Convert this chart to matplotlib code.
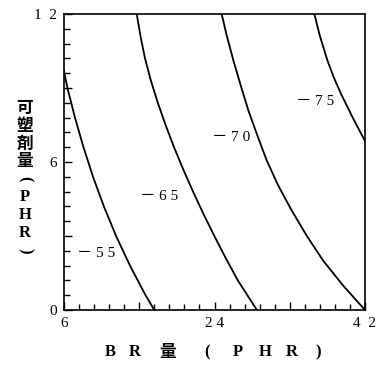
import matplotlib.pyplot as plt
import numpy as np

# contour lines (BR amount vs plasticizer amount)
levels = ['－ 5 5', '－ 6 5', '－ 7 0', '－ 7 5']
br_55 = [6.0, 6.41, 7.31, 8.33, 9.47, 10.77, 12.23, 13.89, 15.75, 16.8]
pl_55 = [9.68, 9.0, 7.8, 6.6, 5.4, 4.2, 3.0, 1.8, 0.6, 0.0]
br_65 = [14.7, 15.15, 15.69, 16.39, 17.22, 18.15, 19.16, 20.26, 21.43, 22.67, 23.98, 25.35, 26.79, 29.07]
pl_65 = [12.0, 11.1, 10.2, 9.3, 8.4, 7.5, 6.6, 5.7, 4.8, 3.9, 3.0, 2.1, 1.2, 0.0]
br_70 = [24.86, 25.45, 26.25, 27.13, 28.05, 29.12, 30.25, 31.63, 33.24, 35.03, 37.02, 39.41, 42.0]
pl_70 = [12.0, 11.14, 10.13, 9.11, 8.09, 7.08, 6.06, 5.04, 4.03, 3.01, 1.99, 0.98, 0.0]
br_75 = [35.94, 36.58, 37.49, 38.24, 39.12, 40.5, 41.97]
pl_75 = [12.0, 11.14, 10.13, 9.45, 8.77, 7.82, 6.87]
label_x = [9.8, 17.4, 26.0, 36.0]
label_y = [2.3, 4.6, 7.0, 8.45]

xticks = [6, 15, 24, 33, 42]
xtick_labels = ['6', '', '2 4', '', '4  2']
yticks = [0, 3, 6, 9, 12]
ytick_labels = ['0', '', '6', '', '1  2']

serif = ['Liberation Serif', 'Noto Sans CJK JP']
cjk = ['Noto Sans CJK JP', 'Liberation Serif']

fig = plt.figure(figsize=(3.81, 3.65), dpi=100)
ax = fig.add_axes([64 / 381, 55 / 365, 301 / 381, 296 / 365])

for xs, ys in [(br_55, pl_55), (br_65, pl_65), (br_70, pl_70), (br_75, pl_75)]:
    ax.plot(xs, ys, color='black', lw=1.3, solid_joinstyle='round')

for lab, x, y in zip(levels, label_x, label_y):
    ax.text(x, y, lab, ha='center', va='center', fontsize=11, family=serif)

ax.set_xlim(6, 42)
ax.set_ylim(0, 12)
ax.set_xticks(xticks, xtick_labels, family=serif, fontsize=11)
ax.set_yticks(yticks, ytick_labels, family=serif, fontsize=11)
ax.set_xticks(np.arange(6, 42.01, 1.8), minor=True)
ax.set_yticks(np.arange(0, 12.01, 0.6), minor=True)
ax.tick_params(which='major', direction='in', length=6, width=1.0, pad=5)
ax.tick_params(which='minor', direction='in', length=4, width=1.0)
for s in ax.spines.values():
    s.set_linewidth(1.2)

# y label, stacked vertically; brackets turned to vertical form
ychars = ['可', '塑', '剤', '量', '(', 'P', 'H', 'R', ')']
for i, ch in enumerate(ychars):
    rot = -90 if ch in '()' else 0
    fam = serif if ch in 'PHR()' else cjk
    fig.text(25 / 381, 1 - (108 + i * 17.8) / 365, ch, ha='center', va='center',
             fontsize=12, fontweight='bold', family=fam, rotation=rot)

# x label
xchars = ['B', 'R', '量', '(', 'P', 'H', 'R', ')']
xpos = [110, 135, 168, 207, 238, 265, 292, 318]
for ch, px in zip(xchars, xpos):
    fam = cjk if ch == '量' else serif
    fig.text(px / 381, 1 - 352 / 365, ch, ha='center', va='center',
             fontsize=12, fontweight='bold', family=fam)

fig.savefig('out.png', dpi=100)
